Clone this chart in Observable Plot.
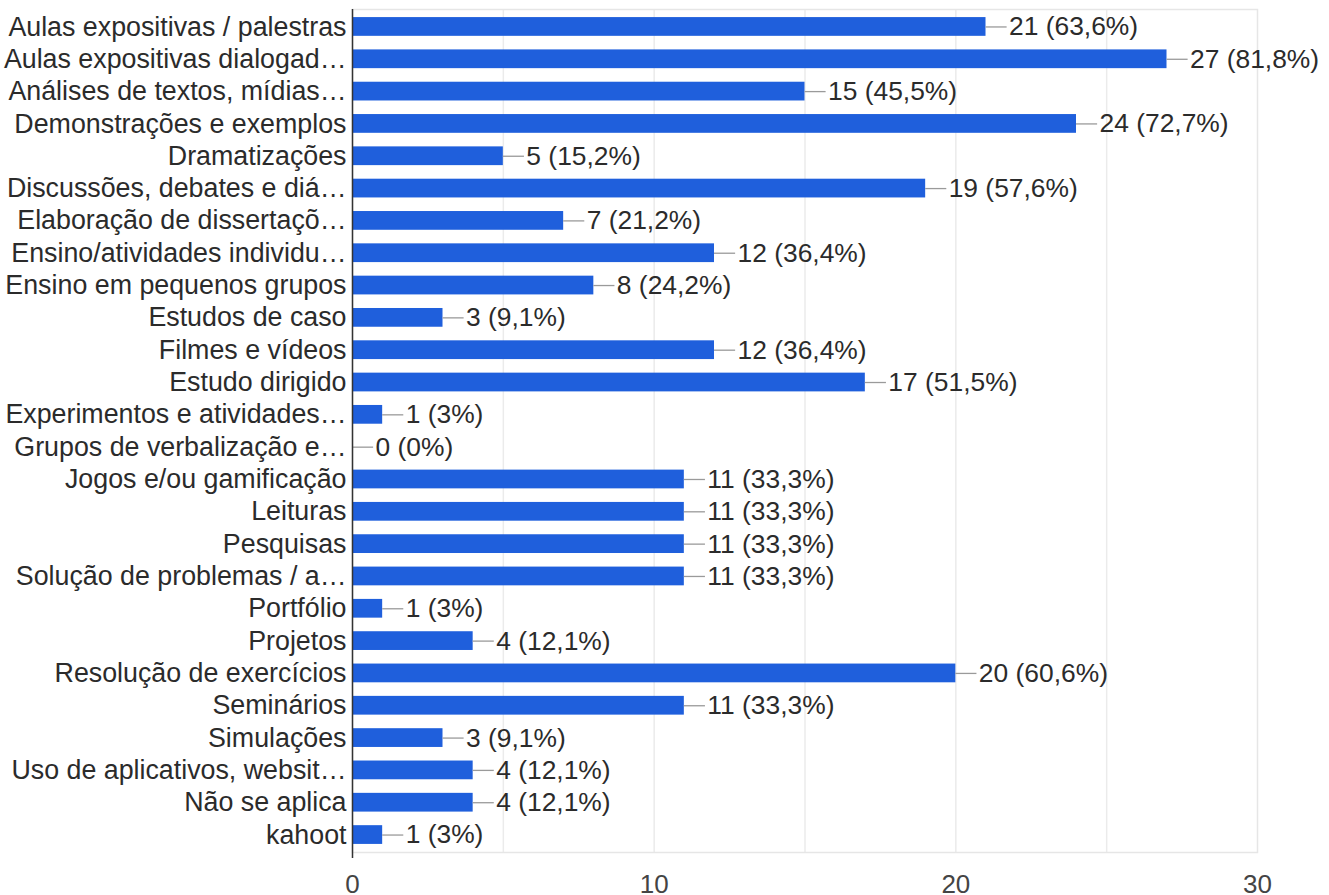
<!DOCTYPE html>
<html>
<head>
<meta charset="utf-8">
<script src="https://cdn.jsdelivr.net/npm/d3@7"></script>
<script src="https://cdn.jsdelivr.net/npm/@observablehq/plot@0.6"></script>
<style>
  html, body { margin: 0; padding: 0; background: #fff; }
  #chart svg { display: block; }
</style>
</head>
<body>
<div id="chart"></div>
<script>
const categories = [
  "Aulas expositivas / palestras",
  "Aulas expositivas dialogad…",
  "Análises de textos, mídias…",
  "Demonstrações e exemplos",
  "Dramatizações",
  "Discussões, debates e diá…",
  "Elaboração de dissertaçõ…",
  "Ensino/atividades individu…",
  "Ensino em pequenos grupos",
  "Estudos de caso",
  "Filmes e vídeos",
  "Estudo dirigido",
  "Experimentos e atividades…",
  "Grupos de verbalização e…",
  "Jogos e/ou gamificação",
  "Leituras",
  "Pesquisas",
  "Solução de problemas / a…",
  "Portfólio",
  "Projetos",
  "Resolução de exercícios",
  "Seminários",
  "Simulações",
  "Uso de aplicativos, websit…",
  "Não se aplica",
  "kahoot"
];
const counts = [21, 27, 15, 24, 5, 19, 7, 12, 8, 3, 12, 17, 1, 0, 11, 11, 11, 11, 1, 4, 20, 11, 3, 4, 4, 1];
const percents = ["63,6%", "81,8%", "45,5%", "72,7%", "15,2%", "57,6%", "21,2%", "36,4%", "24,2%", "9,1%", "36,4%", "51,5%", "3%", "0%", "33,3%", "33,3%", "33,3%", "33,3%", "3%", "12,1%", "60,6%", "33,3%", "9,1%", "12,1%", "12,1%", "3%"];
const xTicks = [0, 10, 20, 30];
const gridTicks = [5, 10, 15, 20, 25];

const data = categories.map((c, i) => ({category: c, value: counts[i], label: `${counts[i]} (${percents[i]})`}));

const FONT = "'Liberation Sans', Arial, sans-serif";
const leader = 0.7; // leader line length in x units (~21px)

const chart = Plot.plot({
  width: 1329,
  height: 895,
  marginLeft: 352,
  marginRight: 72,
  marginTop: 9,
  marginBottom: 43,
  style: {fontFamily: FONT, background: "#fff"},
  x: {domain: [0, 30], axis: null},
  y: {domain: categories, paddingInner: 0.42, paddingOuter: 0.25, round: false, axis: null},
  marks: [
    Plot.ruleX(gridTicks, {stroke: "#ebebeb", strokeWidth: 1.5}),
    Plot.frame({stroke: "#e6e6e6", strokeWidth: 1.5}),
    Plot.barX(data, {y: "category", x: "value", fill: "#1f5fdc"}),
    Plot.ruleY(data, {y: "category", x1: "value", x2: d => d.value + leader, stroke: "#9a9a9a", strokeWidth: 1.3}),
    Plot.text(data, {y: "category", x: "value", text: "label", dx: 23, textAnchor: "start", fontSize: 26.4, fill: "#2b2b2b"}),
    Plot.ruleX([0], {stroke: "#333", strokeWidth: 1.5, insetBottom: -6}),
    Plot.axisY({tickSize: 0, tickPadding: 6, fontSize: 26.8, fill: "#2b2b2b", label: null}),
    Plot.axisX({ticks: xTicks, tickSize: 0, tickPadding: 22, fontSize: 26, fill: "#444", label: null})
  ]
});
document.getElementById("chart").appendChild(chart);
</script>
</body>
</html>
